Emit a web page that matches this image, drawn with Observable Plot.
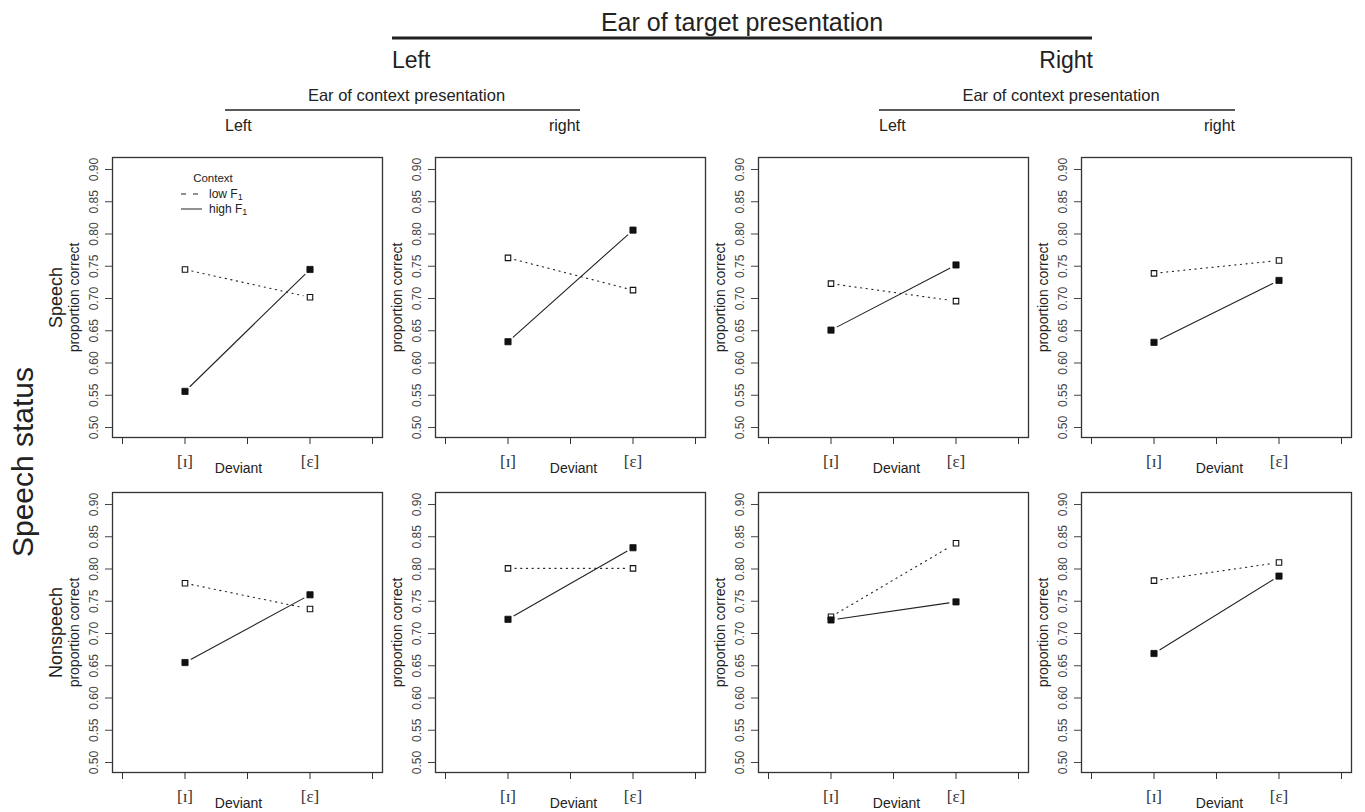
<!DOCTYPE html>
<html><head><meta charset="utf-8">
<script src="https://cdn.jsdelivr.net/npm/d3@7"></script>
<script src="https://cdn.jsdelivr.net/npm/@observablehq/plot@0.6"></script>
<style>
body{margin:0;background:#fff;}
#wrap{position:relative;width:1365px;height:812px;overflow:hidden;font-family:"Liberation Sans",Arial,Helvetica,sans-serif;color:#222;}
#chart{position:absolute;left:0;top:140px;}
#over{position:absolute;left:0;top:0;pointer-events:none;}
</style></head><body>
<div id="wrap"><div id="chart"></div><svg id="over" width="1365" height="812"></svg></div>
<script>
// ---- data ----
const targetEars = ["Left", "Right"];
const contextEars = ["Left", "right"];
const statuses = ["Speech", "Nonspeech"];
const deviants = ["[ɪ]", "[ɛ]"];
const contexts = ["low F", "high F"];   // subscript 1 added when drawn
// panel order: target Left/context Left, target Left/context right, target Right/context Left, target Right/context right
// each pair: [ɪ], [ɛ]
const speechLow     = [[0.745, 0.702], [0.763, 0.713], [0.723, 0.696], [0.739, 0.759]];
const speechHigh    = [[0.556, 0.745], [0.633, 0.806], [0.651, 0.752], [0.632, 0.728]];
const nonspeechLow  = [[0.778, 0.738], [0.801, 0.801], [0.726, 0.840], [0.782, 0.810]];
const nonspeechHigh = [[0.655, 0.760], [0.722, 0.833], [0.721, 0.749], [0.669, 0.789]];
const yTicks = [0.50, 0.55, 0.60, 0.65, 0.70, 0.75, 0.80, 0.85, 0.90];
const xTicks = [0.5, 1, 1.5, 2, 2.5];

// ---- build tables ----
const panels = [];
for (const t of targetEars) for (const c of contextEars) panels.push(t + "|" + c);
const series = {
  Speech: [speechLow, speechHigh],
  Nonspeech: [nonspeechLow, nonspeechHigh]
};
const points = [], segments = [];
for (const s of statuses) {
  series[s].forEach((arr, ci) => {
    arr.forEach((pair, pi) => {
      pair.forEach((v, di) => points.push({fx: panels[pi], fy: s, context: contexts[ci], x: di + 1, y: v}));
      segments.push({fx: panels[pi], fy: s, context: contexts[ci], x1: 1, y1: pair[0], x2: 2, y2: pair[1]});
    });
  });
}
const rowLabels = statuses.map(s => ({fx: panels[0], fy: s, text: s}));
const devFirst = statuses.map(s => ({fx: panels[0], fy: s}));
const devOther = [];
for (const s of statuses) for (const p of panels.slice(1)) devOther.push({fx: p, fy: s});

const FONT = "Liberation Sans, Arial, Helvetica, sans-serif";
const chart = Plot.plot({
  width: 1365, height: 672,
  marginLeft: 111, marginRight: 12, marginTop: 17, marginBottom: 40,
  style: {fontFamily: FONT, background: "transparent", color: "#222"},
  fx: {domain: panels, axis: null, paddingInner: 0.1636, paddingOuter: 0},
  fy: {domain: statuses, axis: null, paddingInner: 0.1642, paddingOuter: 0},
  x: {domain: [0.42, 2.58]},
  y: {domain: [0.4845, 0.9186]},
  marks: [
    Plot.frame({stroke: "#333", strokeWidth: 1.3}),
    Plot.axisY({ticks: yTicks, tickFormat: d3.format(".2f"), tickRotate: -90, tickSize: 7, tickPadding: 8,
      fontSize: 12, color: "#444", label: null, facetAnchor: null}),
    Plot.axisX({ticks: xTicks, tickFormat: d => d === 1 ? deviants[0] : d === 2 ? deviants[1] : "",
      tickSize: 7, tickPadding: 10, fontSize: 17, fontFamily: "Liberation Serif, DejaVu Serif, serif",
      color: "#333", label: null, facetAnchor: null}),
    Plot.text(["proportion correct"], {frameAnchor: "left", textAnchor: "middle", dx: -38, rotate: -90, fontSize: 14, fill: "#222"}),
    Plot.text(rowLabels, {fx: "fx", fy: "fy", text: "text", frameAnchor: "left", textAnchor: "middle", dx: -56, rotate: -90, fontSize: 18, fill: "#222"}),
    Plot.text(devFirst, {fx: "fx", fy: "fy", text: () => "Deviant", frameAnchor: "bottom", dx: -9, dy: 35, fontSize: 14, fill: "#222"}),
    Plot.text(devOther, {fx: "fx", fy: "fy", text: () => "Deviant", frameAnchor: "bottom", dx: 3, dy: 35, fontSize: 14, fill: "#222"}),
    Plot.arrow(segments, {filter: d => d.context === contexts[0], fx: "fx", fy: "fy", x1: "x1", y1: "y1", x2: "x2", y2: "y2",
      headLength: 0, bend: 0, insetStart: 7, insetEnd: 7, stroke: "#222", strokeWidth: 1.1, strokeDasharray: "1.2,4.5"}),
    Plot.arrow(segments, {filter: d => d.context === contexts[1], fx: "fx", fy: "fy", x1: "x1", y1: "y1", x2: "x2", y2: "y2",
      headLength: 0, bend: 0, insetStart: 7, insetEnd: 7, stroke: "#222", strokeWidth: 1.1}),
    Plot.dot(points, {filter: d => d.context === contexts[0], fx: "fx", fy: "fy", x: "x", y: "y",
      symbol: "square", r: 3.1, fill: "white", stroke: "#111", strokeWidth: 1.1}),
    Plot.dot(points, {filter: d => d.context === contexts[1], fx: "fx", fy: "fy", x: "x", y: "y",
      symbol: "square", r: 3.5, fill: "#111", stroke: "#111", strokeWidth: 0.8})
  ]
});
document.getElementById("chart").appendChild(chart);

// ---- header, strip titles, legend ----
const o = d3.select("#over").style("font-family", FONT);
function txt(x, y, s, size, anchor, rot) {
  const t = o.append("text").attr("x", x).attr("y", y).attr("font-size", size)
    .attr("text-anchor", anchor || "middle").attr("fill", "#222").text(s);
  if (rot) t.attr("transform", `rotate(${rot},${x},${y})`);
  return t;
}
function ln(x1, y1, x2, y2, w, dash) {
  const l = o.append("line").attr("x1", x1).attr("y1", y1).attr("x2", x2).attr("y2", y2)
    .attr("stroke", "#222").attr("stroke-width", w);
  if (dash) l.attr("stroke-dasharray", dash);
}
txt(742, 31, "Ear of target presentation", 25);
ln(392, 38, 1092, 38, 3);
txt(392, 68, targetEars[0], 23, "start");
txt(1093, 68, targetEars[1], 23, "end");
[[225, 580], [879, 1235]].forEach(([a, b]) => {
  txt((a + b) / 2 + 4, 101, "Ear of context presentation", 16.5);
  ln(a, 110, b, 110, 1.5);
  txt(a, 131, contextEars[0], 16, "start");
  txt(b, 131, contextEars[1], 16, "end");
});
txt(33, 462, "Speech status", 30, "middle", -90);
// legend
txt(213, 182, "Context", 11.5);
ln(181, 194, 200, 194, 1, "5,7");
ln(181, 209, 202, 209, 1);
[[198, contexts[0]], [213, contexts[1]]].forEach(([y, s]) => {
  const t = txt(209, y, s, 12, "start");
  t.append("tspan").attr("font-size", 9).attr("dy", 1.5).text("1");
});
</script>
</body></html>
